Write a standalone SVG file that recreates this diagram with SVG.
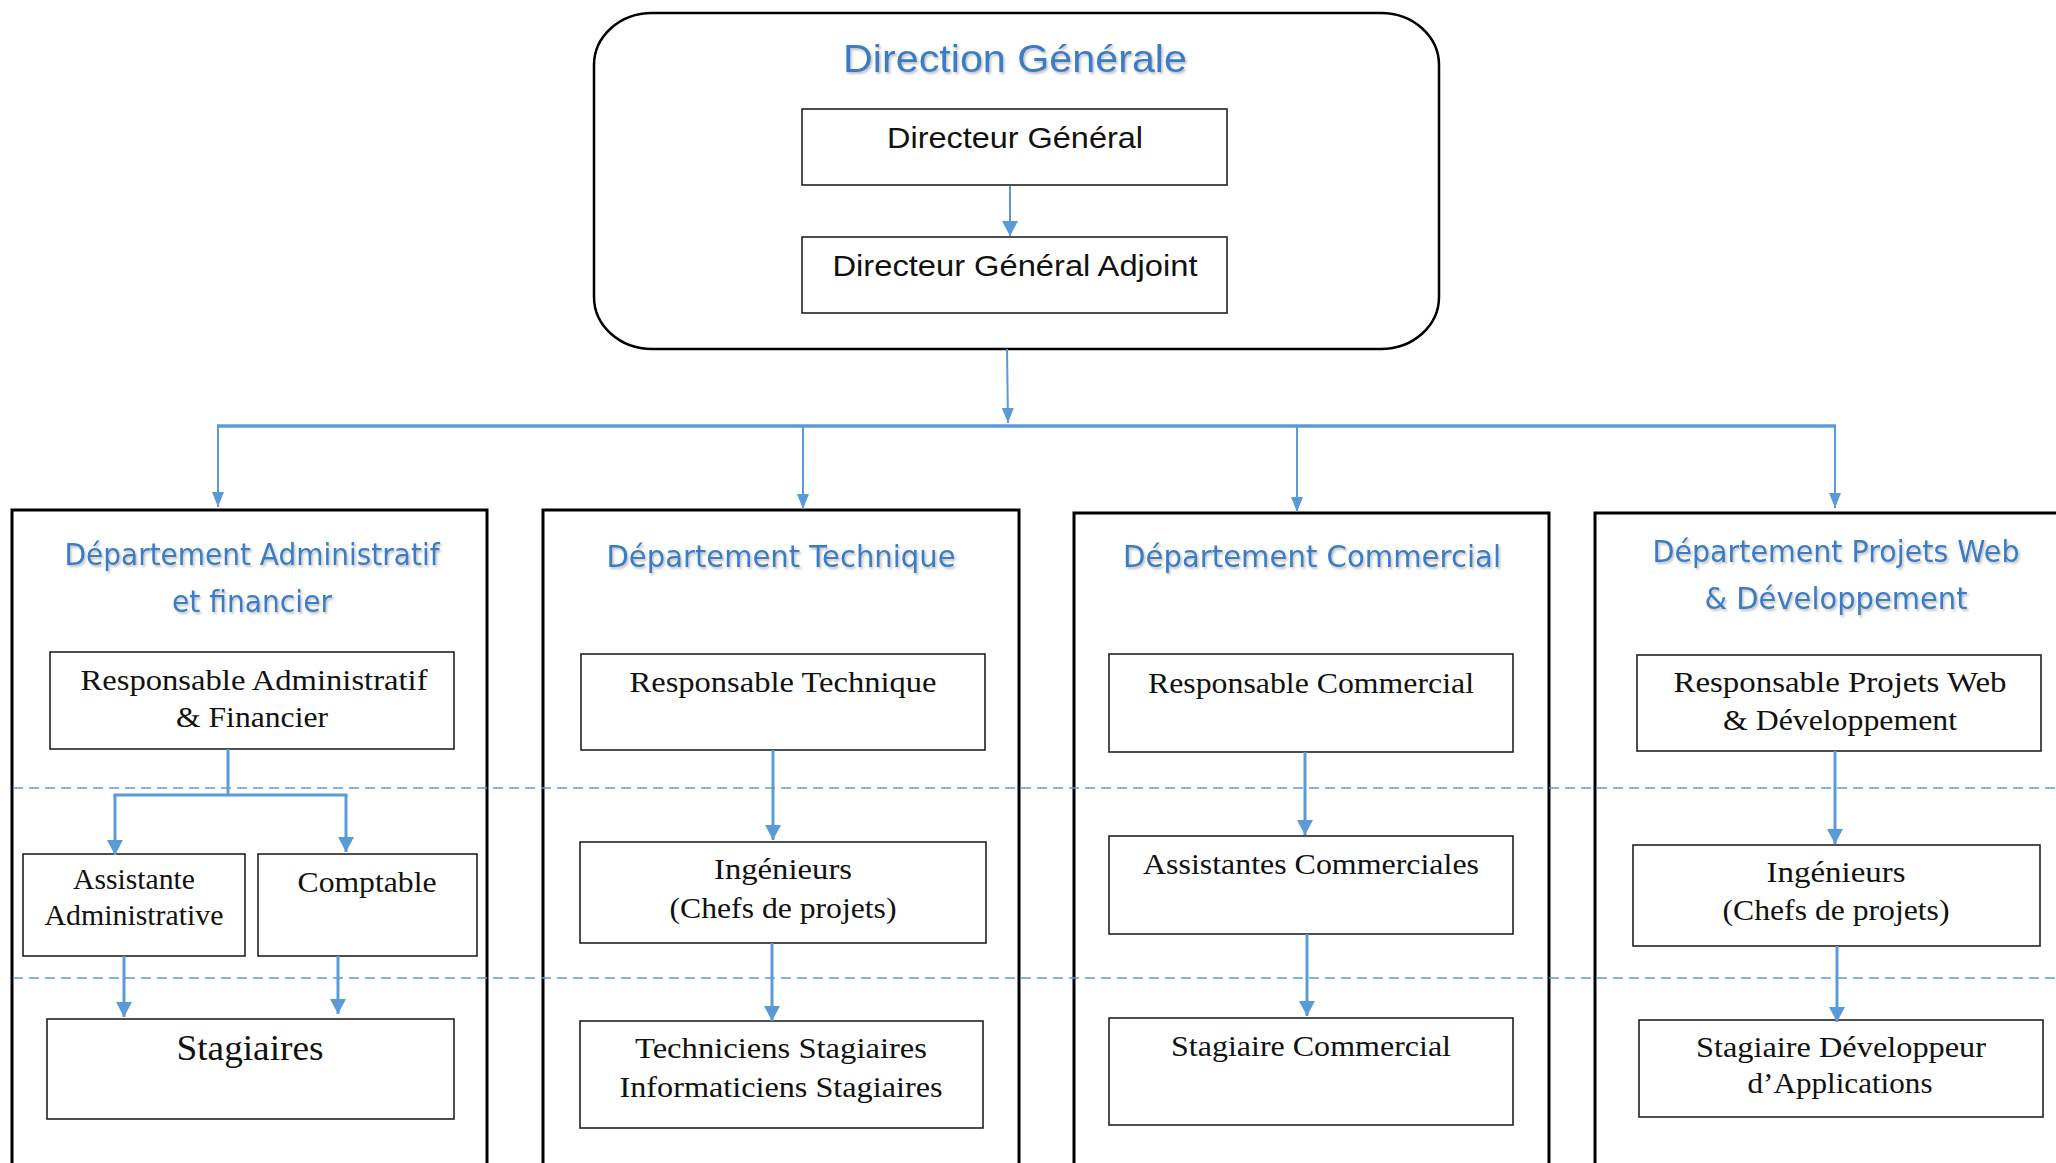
<svg xmlns="http://www.w3.org/2000/svg" width="2056" height="1163" viewBox="0 0 2056 1163">
<defs>
<filter id="sh" x="-5%" y="-20%" width="110%" height="150%">
<feDropShadow dx="1.5" dy="2" stdDeviation="1" flood-color="#000" flood-opacity="0.25"/>
</filter>
<marker id="ah" markerUnits="userSpaceOnUse" markerWidth="16" markerHeight="16" refX="15" refY="8" orient="auto">
<path d="M0,0 L15,8 L0,16 z" fill="#5B9BD5"/>
</marker>
<marker id="as" markerUnits="userSpaceOnUse" markerWidth="16" markerHeight="14" refX="15" refY="7" orient="auto">
<path d="M0,1 L15,7 L0,13 z" fill="#5B9BD5"/>
</marker>
</defs>
<style>
.dept{fill:#fff;stroke:#000;stroke-width:3}
.box{fill:#fff;stroke:#222;stroke-width:1.6}
.title{font-family:"DejaVu Sans","Liberation Sans",sans-serif;font-size:30px;fill:#3B7CC4;text-anchor:middle;filter:url(#sh)}
.main{font-family:"Liberation Sans",Arial,sans-serif;font-size:39px}
.dg{font-family:"Liberation Sans",Arial,sans-serif;font-size:29px;fill:#111;text-anchor:middle}
.lbl{font-family:"Liberation Serif","Times New Roman",serif;font-size:29px;fill:#111;text-anchor:middle}
.con{fill:none;stroke:#5B9BD5;stroke-width:3}
.thin{fill:none;stroke:#5B9BD5;stroke-width:2}
.sep{fill:none;stroke:#5B9BD5;stroke-width:1.3;stroke-dasharray:10 6}
</style>
<rect width="2056" height="1163" fill="#fff"/>

<g id="direction-generale">
<rect x="594" y="13" width="845" height="336" rx="58" ry="52" fill="#fff" stroke="#000" stroke-width="2.5"/>
<text class="title main" x="1015" y="72" textLength="344" lengthAdjust="spacingAndGlyphs">Direction Générale</text>
</g>
<g id="directeur-general">
<rect class="box" x="802" y="109" width="425" height="76"/>
<text class="dg" x="1015" y="148" textLength="256" lengthAdjust="spacingAndGlyphs">Directeur Général</text>
</g>
<g id="directeur-general-adjoint">
<rect class="box" x="802" y="237" width="425" height="76"/>
<text class="dg" x="1015" y="276" textLength="365" lengthAdjust="spacingAndGlyphs">Directeur Général Adjoint</text>
</g>

<g id="dept-admin">
<rect class="dept" x="12" y="510" width="475" height="660"/>
<text class="title" x="252" y="565" textLength="375" lengthAdjust="spacingAndGlyphs">Département Administratif</text>
<text class="title" x="252" y="612" textLength="160" lengthAdjust="spacingAndGlyphs">et financier</text>
</g>
<g id="dept-technique">
<rect class="dept" x="543" y="510" width="476" height="660"/>
<text class="title" x="781" y="567" textLength="349" lengthAdjust="spacingAndGlyphs">Département Technique</text>
</g>
<g id="dept-commercial">
<rect class="dept" x="1074" y="513" width="475" height="660"/>
<text class="title" x="1312" y="567" textLength="378" lengthAdjust="spacingAndGlyphs">Département Commercial</text>
</g>
<g id="dept-web">
<rect class="dept" x="1595" y="513" width="480" height="660"/>
<text class="title" x="1836" y="562" textLength="367" lengthAdjust="spacingAndGlyphs">Département Projets Web</text>
<text class="title" x="1836" y="609" textLength="263" lengthAdjust="spacingAndGlyphs">&amp; Développement</text>
</g>

<g id="separators">
<line class="sep" x1="13" y1="788" x2="2056" y2="788"/>
<line class="sep" x1="13" y1="978" x2="2056" y2="978"/>
</g>

<g id="resp-admin">
<rect class="box" x="50" y="652" width="404" height="97"/>
<text class="lbl" x="254" y="690" textLength="347" lengthAdjust="spacingAndGlyphs">Responsable Administratif</text>
<text class="lbl" x="252" y="727" textLength="152" lengthAdjust="spacingAndGlyphs">&amp; Financier</text>
</g>
<g id="assistante-admin">
<rect class="box" x="23" y="854" width="222" height="102"/>
<text class="lbl" x="134" y="889" textLength="122" lengthAdjust="spacingAndGlyphs">Assistante</text>
<text class="lbl" x="134" y="925" textLength="179" lengthAdjust="spacingAndGlyphs">Administrative</text>
</g>
<g id="comptable">
<rect class="box" x="258" y="854" width="219" height="102"/>
<text class="lbl" x="367" y="892" textLength="139" lengthAdjust="spacingAndGlyphs">Comptable</text>
</g>
<g id="stagiaires">
<rect class="box" x="47" y="1019" width="407" height="100"/>
<text class="lbl" x="250" y="1060" style="font-size:35px" textLength="147" lengthAdjust="spacingAndGlyphs">Stagiaires</text>
</g>

<g id="resp-technique">
<rect class="box" x="581" y="654" width="404" height="96"/>
<text class="lbl" x="783" y="692" textLength="307" lengthAdjust="spacingAndGlyphs">Responsable Technique</text>
</g>
<g id="ingenieurs-tech">
<rect class="box" x="580" y="842" width="406" height="101"/>
<text class="lbl" x="783" y="879" textLength="138" lengthAdjust="spacingAndGlyphs">Ingénieurs</text>
<text class="lbl" x="783" y="918" textLength="227" lengthAdjust="spacingAndGlyphs">(Chefs de projets)</text>
</g>
<g id="stagiaires-tech">
<rect class="box" x="580" y="1021" width="403" height="107"/>
<text class="lbl" x="781" y="1058" textLength="292" lengthAdjust="spacingAndGlyphs">Techniciens Stagiaires</text>
<text class="lbl" x="781" y="1097" textLength="323" lengthAdjust="spacingAndGlyphs">Informaticiens Stagiaires</text>
</g>

<g id="resp-commercial">
<rect class="box" x="1109" y="654" width="404" height="98"/>
<text class="lbl" x="1311" y="693" textLength="326" lengthAdjust="spacingAndGlyphs">Responsable Commercial</text>
</g>
<g id="assistantes-commerciales">
<rect class="box" x="1109" y="836" width="404" height="98"/>
<text class="lbl" x="1311" y="874" textLength="336" lengthAdjust="spacingAndGlyphs">Assistantes Commerciales</text>
</g>
<g id="stagiaire-commercial">
<rect class="box" x="1109" y="1018" width="404" height="107"/>
<text class="lbl" x="1311" y="1056" textLength="280" lengthAdjust="spacingAndGlyphs">Stagiaire Commercial</text>
</g>

<g id="resp-web">
<rect class="box" x="1637" y="655" width="404" height="96"/>
<text class="lbl" x="1840" y="692" textLength="333" lengthAdjust="spacingAndGlyphs">Responsable Projets Web</text>
<text class="lbl" x="1840" y="730" textLength="234" lengthAdjust="spacingAndGlyphs">&amp; Développement</text>
</g>
<g id="ingenieurs-web">
<rect class="box" x="1633" y="845" width="407" height="101"/>
<text class="lbl" x="1836" y="882" textLength="139" lengthAdjust="spacingAndGlyphs">Ingénieurs</text>
<text class="lbl" x="1836" y="920" textLength="227" lengthAdjust="spacingAndGlyphs">(Chefs de projets)</text>
</g>
<g id="stagiaire-dev">
<rect class="box" x="1639" y="1020" width="404" height="97"/>
<text class="lbl" x="1841" y="1057" textLength="290" lengthAdjust="spacingAndGlyphs">Stagiaire Développeur</text>
<text class="lbl" x="1840" y="1093" textLength="185" lengthAdjust="spacingAndGlyphs">d’Applications</text>
</g>

<g id="connectors">
<path class="thin" d="M1010,186 L1010,236" marker-end="url(#ah)"/>
<path class="thin" d="M1007,349 L1008,423" marker-end="url(#as)"/>
<path fill="none" stroke="#5B9BD5" stroke-width="3.5" d="M217,426 L1836,426"/>
<path class="thin" d="M218,426 L218,507" marker-end="url(#as)"/>
<path class="thin" d="M803,426 L803,509" marker-end="url(#as)"/>
<path class="thin" d="M1297,426 L1297,512" marker-end="url(#as)"/>
<path class="thin" d="M1835,426 L1835,508" marker-end="url(#as)"/>
<path class="con" d="M228,749 L228,795 M113.5,795 L347.5,795"/>
<path class="con" d="M115,795 L115,855" marker-end="url(#ah)"/>
<path class="con" d="M346,795 L346,852" marker-end="url(#ah)"/>
<path class="con" d="M124,956 L124,1017" marker-end="url(#ah)"/>
<path class="con" d="M338,956 L338,1014" marker-end="url(#ah)"/>
<path class="con" d="M773,750 L773,840" marker-end="url(#ah)"/>
<path class="con" d="M772,943 L772,1021" marker-end="url(#ah)"/>
<path class="con" d="M1305,752 L1305,835" marker-end="url(#ah)"/>
<path class="con" d="M1307,934 L1307,1016" marker-end="url(#ah)"/>
<path class="con" d="M1835,751 L1835,844" marker-end="url(#ah)"/>
<path class="con" d="M1837,946 L1837,1022" marker-end="url(#ah)"/>
</g>
</svg>
